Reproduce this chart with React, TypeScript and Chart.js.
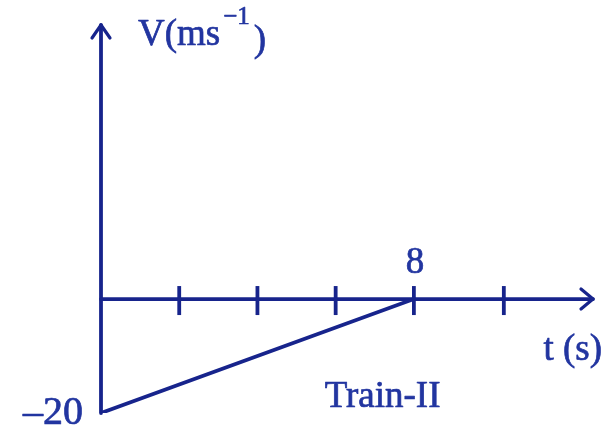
import React, { useEffect, useRef } from "react";
import { Chart, registerables } from "chart.js";

Chart.register(...registerables);

const tValues = [0, 8];
const vValues = [-20, 0];
const xTicks = [2, 4, 6, 8, 10.3];
const xLabelTicks = [8];
const yLabelTicks = [-20];
const xMin = 0;
const xMax = 12.58;
const yMin = -20;
const yMax = 48.1;

const LINE = "#17248c";
const TEXT = "#2235a0";
const FONT = '"Liberation Serif", "Times New Roman", serif';

function boldText(ctx: CanvasRenderingContext2D, s: string, x: number, y: number) {
  ctx.fillText(s, x, y);
  ctx.strokeText(s, x, y);
}

const axesPlugin = {
  id: "handAxes",
  afterDatasetsDraw(chart: any) {
    const ctx = chart.ctx as CanvasRenderingContext2D;
    const xs = chart.scales.x;
    const ys = chart.scales.y;
    const x0 = xs.getPixelForValue(0);
    const y0 = ys.getPixelForValue(0);
    const xEnd = xs.getPixelForValue(xMax);
    const yTop = ys.getPixelForValue(yMax);
    const yBot = ys.getPixelForValue(yMin);
    ctx.save();
    ctx.strokeStyle = LINE;
    ctx.lineWidth = 3.8;
    ctx.lineCap = "round";
    ctx.lineJoin = "round";
    // y axis
    ctx.beginPath();
    ctx.moveTo(x0, yBot);
    ctx.lineTo(x0, yTop);
    ctx.stroke();
    // x axis
    ctx.beginPath();
    ctx.moveTo(x0, y0);
    ctx.lineTo(xEnd, y0);
    ctx.stroke();
    // arrowheads
    ctx.lineWidth = 3.2;
    ctx.beginPath();
    ctx.moveTo(xEnd - 12, y0 - 10);
    ctx.lineTo(xEnd, y0);
    ctx.lineTo(xEnd - 12, y0 + 10);
    ctx.stroke();
    ctx.beginPath();
    ctx.moveTo(x0 - 9, yTop + 13);
    ctx.lineTo(x0, yTop);
    ctx.lineTo(x0 + 9, yTop + 13);
    ctx.stroke();
    // ticks
    ctx.lineWidth = 3.8;
    ctx.lineCap = "butt";
    for (const t of xTicks) {
      const px = xs.getPixelForValue(t);
      ctx.beginPath();
      ctx.moveTo(px, y0 - 13);
      ctx.lineTo(px, y0 + 16);
      ctx.stroke();
    }
    // labels
    ctx.fillStyle = TEXT;
    ctx.strokeStyle = TEXT;
    ctx.lineWidth = 0.7;
    ctx.font = `37px ${FONT}`;
    ctx.textBaseline = "alphabetic";
    ctx.textAlign = "center";
    for (const t of xLabelTicks) {
      boldText(ctx, String(t), xs.getPixelForValue(t) + 1, y0 - 26);
    }
    ctx.textAlign = "right";
    ctx.font = `40px ${FONT}`;
    for (const v of yLabelTicks) {
      boldText(ctx, v < 0 ? "\u2013" + Math.abs(v) : String(v), x0 - 18, ys.getPixelForValue(v) + 11);
    }
    ctx.font = `37px ${FONT}`;
    ctx.textAlign = "right";
    boldText(ctx, "t (s)", xEnd + 9, y0 + 61);
    ctx.textAlign = "left";
    boldText(ctx, "Train-II", xs.getPixelForValue(5.72), ys.getPixelForValue(-18.9));
    // y-axis title with superscript
    let tx = x0 + 37;
    const by = yTop + 20;
    boldText(ctx, "V(ms", tx, by);
    tx += ctx.measureText("V(ms").width + 3;
    ctx.font = `25px ${FONT}`;
    boldText(ctx, "\u22121", tx, by - 21);
    tx += ctx.measureText("\u22121").width + 4;
    ctx.font = `37px ${FONT}`;
    boldText(ctx, ")", tx, by + 6);
    ctx.restore();
  },
};

export default function App() {
  const ref = useRef<HTMLCanvasElement | null>(null);
  useEffect(() => {
    document.body.style.margin = "0";
    const canvas = ref.current;
    if (!canvas) return;
    const chart = new Chart(canvas, {
      type: "line",
      data: {
        datasets: [
          {
            label: "Train-II",
            data: tValues.map((t, i) => ({ x: t, y: vValues[i] })),
            borderColor: LINE,
            borderWidth: 3.8,
            pointRadius: 0,
            borderCapStyle: "round",
            tension: 0,
          },
        ],
      },
      options: {
        animation: false,
        responsive: false,
        maintainAspectRatio: false,
        events: [],
        layout: { padding: { left: 101, right: 17, top: 25, bottom: 24 } },
        plugins: { legend: { display: false }, tooltip: { enabled: false } },
        scales: {
          x: { type: "linear", min: xMin, max: xMax, display: false },
          y: { type: "linear", min: yMin, max: yMax, display: false },
        },
      },
      plugins: [axesPlugin],
    });
    return () => chart.destroy();
  }, []);
  return (
    <div style={{ position: "fixed", left: 0, top: 0, width: 610, height: 437, background: "#fff" }}>
      <canvas ref={ref} width={610} height={437} style={{ width: 610, height: 437 }} />
    </div>
  );
}
